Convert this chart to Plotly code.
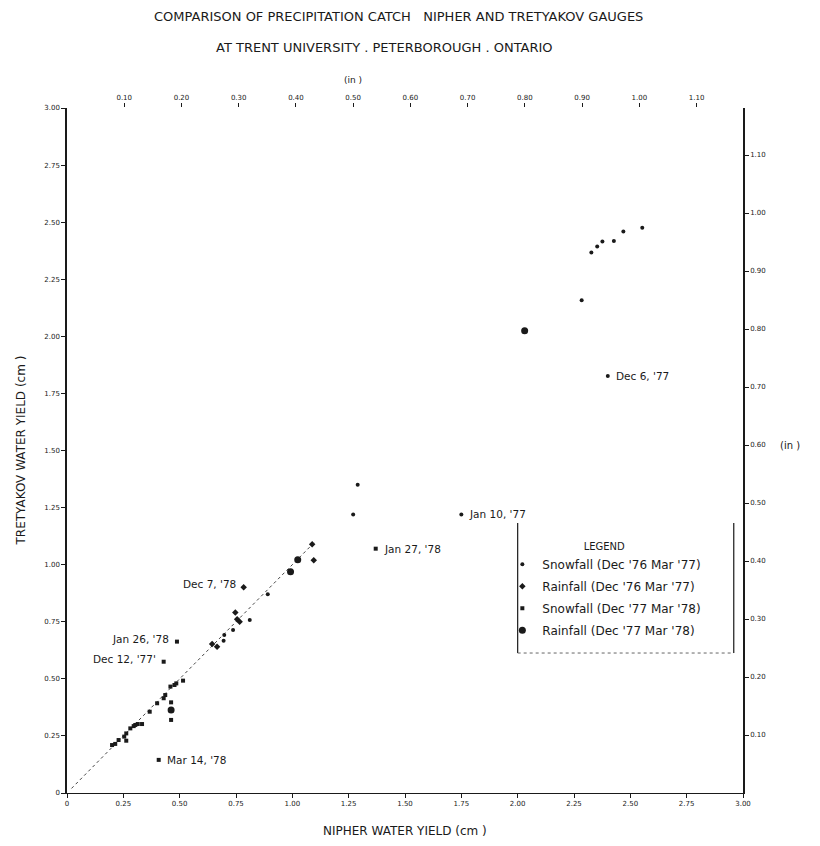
import plotly.graph_objects as go

# ---------------- data (cm) ----------------
snow_7677_x = [2.553, 2.469, 2.427, 2.376, 2.353, 2.327, 2.284, 2.40, 1.27, 1.29, 1.75, 0.891, 0.811, 0.737, 0.698, 0.695]
snow_7677_y = [2.476, 2.459, 2.418, 2.415, 2.393, 2.367, 2.158, 1.826, 1.22, 1.35, 1.22, 0.870, 0.758, 0.714, 0.692, 0.667]

rain_7677_x = [1.088, 1.095, 0.784, 0.747, 0.755, 0.766, 0.644, 0.666]
rain_7677_y = [1.089, 1.019, 0.901, 0.790, 0.761, 0.750, 0.653, 0.641]

snow_7778_x = [1.37, 0.488, 0.429, 0.515, 0.485, 0.477, 0.459, 0.436, 0.429, 0.462, 0.462, 0.400, 0.367,
               0.333, 0.314, 0.303, 0.296, 0.281, 0.263, 0.254, 0.229, 0.263, 0.214, 0.200, 0.407]
snow_7778_y = [1.07, 0.663, 0.575, 0.492, 0.480, 0.473, 0.466, 0.429, 0.415, 0.397, 0.320, 0.393, 0.356,
               0.302, 0.302, 0.298, 0.293, 0.283, 0.261, 0.247, 0.232, 0.229, 0.215, 0.210, 0.145]

rain_7778_x = [2.031, 1.024, 0.992, 0.462]
rain_7778_y = [2.024, 1.021, 0.969, 0.364]

ref_line_x = [0.02, 1.10]
ref_line_y = [0.02, 1.10]

# point labels
label_text = ["Dec 7, '78", "Jan 26, '78", "Dec 12, '77'", "Mar 14, '78", "Dec 6, '77", "Jan 10, '77", "Jan 27, '78"]
label_x = [0.784, 0.488, 0.429, 0.407, 2.40, 1.75, 1.37]
label_y = [0.901, 0.663, 0.575, 0.145, 1.826, 1.22, 1.07]
label_side = ["left", "left", "left", "right", "right", "right", "right"]

# axis ticks
cm_ticks = [0, 0.25, 0.5, 0.75, 1.0, 1.25, 1.5, 1.75, 2.0, 2.25, 2.5, 2.75, 3.0]
cm_labels = ["0", "0.25", "0.50", "0.75", "1.00", "1.25", "1.50", "1.75", "2.00", "2.25", "2.50", "2.75", "3.00"]
in_ticks = [0.1, 0.2, 0.3, 0.4, 0.5, 0.6, 0.7, 0.8, 0.9, 1.0, 1.1]
in_labels = ["0.10", "0.20", "0.30", "0.40", "0.50", "0.60", "0.70", "0.80", "0.90", "1.00", "1.10"]

FONT = "DejaVu Sans"
INK = "#1a1a1a"

fig = go.Figure()

fig.add_trace(go.Scatter(x=ref_line_x, y=ref_line_y, mode="lines",
                         line=dict(color="#444", width=1, dash="dot"),
                         showlegend=False, hoverinfo="skip"))

fig.add_trace(go.Scatter(x=snow_7677_x, y=snow_7677_y, mode="markers", legendgroup="a",
                         marker=dict(symbol="circle", size=4, color=INK),
                         name="Snowfall (Dec '76 Mar '77)"))
fig.add_trace(go.Scatter(x=rain_7677_x, y=rain_7677_y, mode="markers", legendgroup="b",
                         marker=dict(symbol="diamond", size=5, color=INK),
                         name="Rainfall (Dec '76 Mar '77)"))
fig.add_trace(go.Scatter(x=snow_7778_x, y=snow_7778_y, mode="markers", legendgroup="c",
                         marker=dict(symbol="square", size=4, color=INK),
                         name="Snowfall (Dec '77 Mar '78)"))
fig.add_trace(go.Scatter(x=rain_7778_x, y=rain_7778_y, mode="markers", legendgroup="d",
                         marker=dict(symbol="circle", size=7, color=INK),
                         name="Rainfall (Dec '77 Mar '78)"))

# invisible trace to anchor inch axes
fig.add_trace(go.Scatter(x=[v / 2.54 for v in ref_line_x], y=[v / 2.54 for v in ref_line_y],
                         xaxis="x2", yaxis="y2", mode="lines", line=dict(width=0),
                         opacity=0, showlegend=False, hoverinfo="skip"))

annotations = []
for t, x, y, side in zip(label_text, label_x, label_y, label_side):
    annotations.append(dict(
        x=x, y=y, xref="x", yref="y", text=t, showarrow=False,
        xanchor="right" if side == "left" else "left", yanchor="middle",
        xshift=-6 if side == "left" else 6, yshift=3 if side == "left" else 0,
        font=dict(family=FONT, size=10.5, color=INK)))

title_font = dict(family=FONT, size=13, color=INK)
annotations += [
    dict(text="COMPARISON OF PRECIPITATION CATCH   NIPHER AND TRETYAKOV GAUGES",
         x=0.49, y=1.134, xref="paper", yref="paper", showarrow=False,
         xanchor="center", yanchor="middle", font=title_font),
    dict(text="AT TRENT UNIVERSITY . PETERBOROUGH . ONTARIO",
         x=0.47, y=1.088, xref="paper", yref="paper", showarrow=False,
         xanchor="center", yanchor="middle", font=title_font),
    dict(text="(in )", x=1.27, y=1.041, xref="x", yref="paper", showarrow=False,
         xanchor="center", yanchor="middle", font=dict(family=FONT, size=9, color=INK)),
    dict(text="(in )", x=1.0695, y=0.508, xref="paper", yref="paper", showarrow=False,
         xanchor="center", yanchor="middle", font=dict(family=FONT, size=10, color=INK)),
    dict(text="NIPHER WATER YIELD (cm )", x=0.5, y=-0.0555, xref="paper", yref="paper",
         showarrow=False, xanchor="center", yanchor="middle",
         font=dict(family=FONT, size=12, color=INK)),
    dict(text="TRETYAKOV WATER YIELD (cm )", x=-0.0695, y=0.5, xref="paper", yref="paper",
         showarrow=False, textangle=-90, xanchor="center", yanchor="middle",
         font=dict(family=FONT, size=12, color=INK)),
]

shapes = [
    dict(type="line", xref="x", yref="y", x0=2.0, x1=2.0, y0=1.183, y1=0.613, line=dict(color=INK, width=1.2)),
    dict(type="line", xref="x", yref="y", x0=2.0, x1=2.959, y0=0.613, y1=0.613, line=dict(color="#666", width=1, dash="dot")),
    dict(type="line", xref="x", yref="y", x0=2.959, x1=2.959, y0=1.183, y1=0.613, line=dict(color=INK, width=1.2)),
]

axis_common = dict(showgrid=False, zeroline=False, ticks="outside", ticklen=4,
                   tickcolor=INK, tickfont=dict(family=FONT, size=7, color=INK))

fig.update_layout(
    width=820, height=846,
    margin=dict(l=59, r=85, t=100, b=61),
    paper_bgcolor="white", plot_bgcolor="white",
    font=dict(family=FONT, color=INK),
    xaxis=dict(range=[0, 3], tickvals=cm_ticks, ticktext=cm_labels, showline=True,
               linecolor=INK, linewidth=1, **axis_common),
    yaxis=dict(range=[0, 3], tickvals=cm_ticks, ticktext=cm_labels, showline=True,
               linecolor=INK, linewidth=1.5, **axis_common),
    xaxis2=dict(range=[0, 3 / 2.54], overlaying="x", side="top", tickvals=in_ticks,
                ticktext=in_labels, showline=False, **axis_common),
    yaxis2=dict(range=[0, 3 / 2.54], overlaying="y", side="right", tickvals=in_ticks,
                ticktext=in_labels, showline=True, linecolor=INK, linewidth=1.5,
                **axis_common),
    legend=dict(x=0.644, y=0.374, xanchor="left", yanchor="top",
                bgcolor="rgba(0,0,0,0)", borderwidth=0, itemwidth=30,
                traceorder="grouped", tracegroupgap=3,
                font=dict(family=FONT, size=12, color=INK),
                title=dict(text="LEGEND", side="top center",
                           font=dict(family=FONT, size=10, color=INK))),
    annotations=annotations,
    shapes=shapes,
)

fig.write_html("out.html")
